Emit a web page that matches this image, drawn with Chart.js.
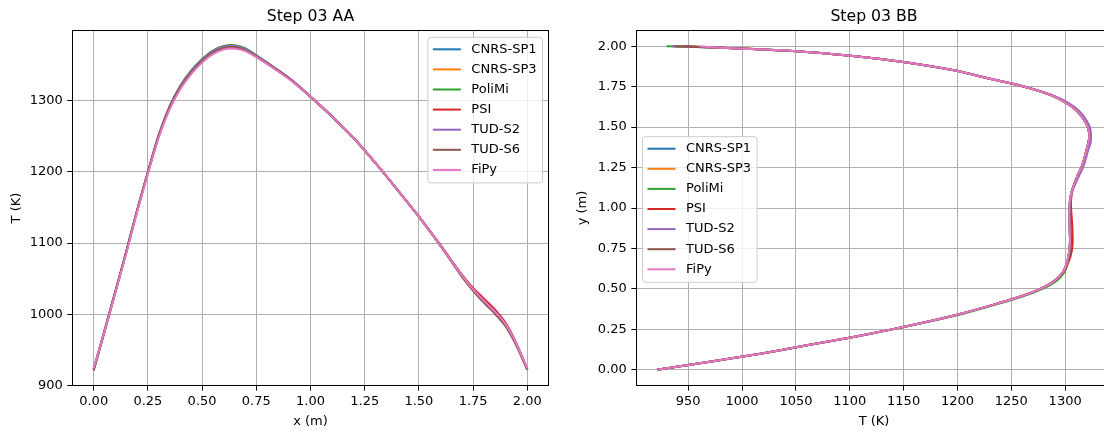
<!DOCTYPE html>
<html>
<head>
<meta charset="utf-8">
<script src="https://cdn.jsdelivr.net/npm/chart.js@4"></script>
<style>
html, body { margin: 0; padding: 0; background: #fff; overflow: hidden; width: 1104px; height: 432px; }
canvas { position: absolute; top: 0; }
#left { left: 0; }
#right { left: 560px; }
</style>
</head>
<body>
<canvas id="left" width="560" height="432"></canvas>
<canvas id="right" width="560" height="432"></canvas>
<script>
const seriesNames = ['CNRS-SP1', 'CNRS-SP3', 'PoliMi', 'PSI', 'TUD-S2', 'TUD-S6', 'FiPy'];
const seriesColors = ['#1f77b4', '#ff7f0e', '#2ca02c', '#d62728', '#9467bd', '#8c564b', '#e377c2'];

// Step 03 AA : T (K) along x (m)
const aaX = [0, 0.05, 0.1, 0.15, 0.2, 0.25, 0.3, 0.35, 0.4, 0.45, 0.5, 0.55, 0.6, 0.65, 0.7, 0.8, 0.9, 1.0,
             1.1, 1.2, 1.3, 1.4, 1.5, 1.6, 1.7, 1.75, 1.8, 1.85, 1.9, 1.95, 2.0];
const aaSP1 = [923, 977, 1032, 1087, 1145, 1199, 1250, 1290, 1319, 1340, 1356, 1368, 1374.5, 1375.5, 1371, 1352, 1331, 1305,
               1277, 1247, 1212, 1175, 1137, 1096, 1053, 1034, 1018, 1003, 985, 957, 923];
const aaSP3 = [923, 977, 1032, 1087, 1145, 1199, 1250, 1290, 1319, 1340, 1356, 1368, 1374.5, 1375.5, 1371, 1352, 1331, 1305,
               1277, 1247, 1212, 1175, 1137, 1096, 1053, 1034, 1018, 1003, 985, 957, 923];
const aaPoliMi = [923, 977, 1032, 1088, 1146, 1200, 1252, 1292, 1321, 1342, 1358, 1370, 1376.5, 1377.5, 1373, 1353, 1331, 1305,
                  1277, 1247, 1212, 1175, 1137, 1096, 1053, 1034, 1018, 1003, 985, 957, 923];
const aaPSI = [923, 977, 1032, 1087, 1145, 1199, 1250, 1290, 1319, 1340, 1356, 1368, 1374.5, 1375.5, 1371, 1352, 1331, 1305,
               1277, 1247, 1212, 1175, 1137, 1097, 1055, 1037, 1022, 1007, 988, 959, 923];
const aaTUDS2 = [923, 977, 1032, 1087, 1145, 1199, 1251, 1291, 1320, 1341, 1357, 1369, 1375.5, 1376.5, 1372, 1353, 1332, 1306,
                 1278, 1247, 1212, 1175, 1137, 1096, 1054, 1035, 1019, 1004, 986, 959, 923];
const aaTUDS6 = [921, 975, 1031, 1087, 1145, 1199, 1250, 1290, 1318, 1339, 1355, 1367, 1373.5, 1374.5, 1370, 1352, 1331, 1305,
                 1277, 1247, 1212, 1175, 1137, 1096, 1052, 1033, 1016, 1001, 983, 956, 922];
const aaFiPy = [924, 976, 1030, 1085, 1143, 1197, 1248, 1287, 1316, 1337, 1353, 1365, 1371.5, 1372.5, 1369, 1351, 1330, 1305,
                1277, 1247, 1212, 1175, 1137, 1096, 1054, 1035, 1019, 1004, 986, 958, 924];

// Step 03 BB : T (K) along y (m)
const bbY = [0, 0.05, 0.1, 0.15, 0.2, 0.25, 0.3, 0.35, 0.4, 0.45, 0.5, 0.55, 0.6, 0.65, 0.7, 0.75, 0.8, 0.9, 1.0,
             1.05, 1.1, 1.15, 1.2, 1.25, 1.3, 1.35, 1.4, 1.45, 1.5, 1.55, 1.6, 1.65, 1.7, 1.75, 1.8, 1.85, 1.9,
             1.94, 1.97, 1.99, 2.0];
const bbSP1 = [921, 970, 1017, 1059, 1101, 1139, 1174, 1205, 1232, 1257, 1277, 1290, 1297.5, 1301, 1303, 1304, 1304.5, 1304, 1304,
               1304.5, 1306, 1308.5, 1311.5, 1315, 1317.5, 1319.5, 1321.5, 1322.5, 1321, 1317, 1311, 1301, 1286, 1262, 1229, 1198, 1153,
               1103, 1047, 982, 945];
const bbSP3 = [921, 970, 1017, 1059, 1101, 1139, 1174, 1205, 1232, 1257, 1277, 1290, 1297.5, 1301, 1303, 1304, 1304.5, 1304, 1304,
               1304.5, 1306, 1308.5, 1311.5, 1315, 1317.5, 1319.5, 1321.5, 1322.5, 1321, 1317, 1311, 1301, 1286, 1262, 1229, 1198, 1153,
               1103, 1047, 982, 945];
const bbPoliMi = [921, 970, 1017, 1059, 1101, 1140, 1175, 1207, 1234, 1259, 1279, 1292, 1299, 1302, 1303, 1304, 1304.5, 1304, 1304,
                  1304.5, 1306, 1308.5, 1311.5, 1315, 1317.5, 1319.5, 1321.5, 1322.5, 1321, 1317, 1311, 1301, 1286, 1262, 1229, 1198, 1153,
                  1103, 1047, 982, 930];
const bbPSI = [921, 970, 1017, 1059, 1101, 1139, 1174, 1205, 1232, 1257, 1277, 1290, 1298, 1302, 1305, 1306.5, 1307, 1306.5, 1305.5,
               1305.5, 1306.5, 1308.5, 1311.5, 1315, 1317.5, 1319.5, 1321.5, 1322.5, 1321, 1317, 1311, 1301, 1286, 1262, 1229, 1198, 1153,
               1103, 1047, 982, 945];
const bbTUDS2 = [921, 970, 1017, 1059, 1101, 1139, 1174, 1205, 1232, 1257, 1277, 1290, 1297.5, 1301, 1303, 1304, 1304.5, 1304, 1304,
                 1305, 1306.5, 1309.5, 1313, 1316.5, 1319, 1321, 1323.5, 1324, 1323, 1319, 1313, 1303, 1287, 1263, 1230, 1198, 1153,
                 1103, 1047, 982, 935];
const bbTUDS6 = [921, 970, 1017, 1059, 1101, 1139, 1174, 1205, 1232, 1257, 1277, 1290, 1297.5, 1301.5, 1304, 1305, 1305.5, 1305, 1304.5,
                 1304.5, 1306, 1308.5, 1311.5, 1315, 1317.5, 1319.5, 1321.5, 1322.5, 1321, 1317, 1311, 1301, 1286, 1262, 1229, 1198, 1153,
                 1103, 1047, 982, 937];
const bbFiPy = [921, 970, 1017, 1059, 1101, 1139, 1174, 1205, 1232, 1257, 1277, 1290, 1297.5, 1301, 1303, 1304, 1304.5, 1304, 1304,
                1304.5, 1306, 1308.5, 1311.5, 1315, 1317.5, 1319.5, 1321.5, 1322.5, 1321, 1317, 1311, 1301, 1286, 1262, 1229, 1198, 1153,
                1103, 1047, 982, 960];

const aaXTicks = [0, 0.25, 0.5, 0.75, 1.0, 1.25, 1.5, 1.75, 2.0];
const aaYTicks = [900, 1000, 1100, 1200, 1300];
const bbXTicks = [950, 1000, 1050, 1100, 1150, 1200, 1250, 1300];
const bbYTicks = [0, 0.25, 0.5, 0.75, 1.0, 1.25, 1.5, 1.75, 2.0];

Chart.defaults.font.family = "'DejaVu Sans', sans-serif";
Chart.defaults.color = '#000';

// spines + matplotlib style legend inside the axes
const mplFrame = {
    id: 'mplFrame',
    afterDatasetsDraw(chart, args, opts) {
        const ctx = chart.ctx;
        const a = chart.chartArea;
        ctx.save();
        ctx.strokeStyle = '#000';
        ctx.lineWidth = 1;
        ctx.strokeRect(Math.round(a.left) + 0.5, Math.round(a.top) + 0.5,
                       Math.round(a.right - a.left) - 1, Math.round(a.bottom - a.top) - 1);

        const sets = chart.data.datasets;
        ctx.font = '13px "DejaVu Sans"';
        const tw = Math.max(...sets.map(d => ctx.measureText(d.label).width));
        const rowH = 20.1;
        const w = 5 + 28 + 10.5 + tw + 6;
        const h = (sets.length - 1) * rowH + 25;
        const x0 = opts.side === 'right' ? a.right - 6.5 - w : a.left + 6.5;
        const y0 = opts.top;
        const r = 3;
        ctx.beginPath();
        ctx.moveTo(x0 + r, y0);
        ctx.arcTo(x0 + w, y0, x0 + w, y0 + h, r);
        ctx.arcTo(x0 + w, y0 + h, x0, y0 + h, r);
        ctx.arcTo(x0, y0 + h, x0, y0, r);
        ctx.arcTo(x0, y0, x0 + w, y0, r);
        ctx.closePath();
        ctx.fillStyle = 'rgba(255,255,255,0.8)';
        ctx.fill();
        ctx.strokeStyle = '#cccccc';
        ctx.stroke();
        ctx.textBaseline = 'middle';
        ctx.textAlign = 'left';
        sets.forEach((d, i) => {
            const cy = y0 + 12 + i * rowH;
            ctx.strokeStyle = d.borderColor;
            ctx.lineWidth = 2;
            ctx.beginPath();
            ctx.moveTo(x0 + 5, cy);
            ctx.lineTo(x0 + 33, cy);
            ctx.stroke();
            ctx.fillStyle = '#000';
            ctx.fillText(d.label, x0 + 43.5, cy);
        });
        ctx.restore();
    }
};

function makeSets(xs, ys, lists, swap) {
    return lists.map((vals, i) => ({
        label: seriesNames[i],
        data: vals.map((v, j) => swap ? {x: v, y: ys[j]} : {x: xs[j], y: v}),
        borderColor: seriesColors[i],
        backgroundColor: seriesColors[i],
        borderWidth: 2,
        pointRadius: 0,
        showLine: true,
        tension: 0.3,
        order: lists.length - i
    }));
}

function axis(min, max, ticks, title, fmt, isX, size, titlePad, tickPad) {
    return {
        type: 'linear',
        min: min,
        max: max,
        afterBuildTicks: s => { s.ticks = ticks.map(v => ({value: v})); },
        afterFit: s => { if (isX) s.height = size; else s.width = size; },
        ticks: {
            callback: fmt,
            color: '#000',
            font: {size: 13},
            padding: tickPad,
            maxRotation: 0,
            autoSkip: false
        },
        grid: {color: '#b0b0b0', lineWidth: 1, tickLength: 4.6, tickColor: '#000', tickWidth: 1},
        border: {display: false},
        title: {display: true, text: title, color: '#000', font: {size: 13}, padding: titlePad}
    };
}

function makeChart(id, title, datasets, xScale, yScale, padRight, legend) {
    return new Chart(document.getElementById(id), {
        type: 'scatter',
        data: {datasets: datasets},
        options: {
            responsive: false,
            animation: false,
            devicePixelRatio: 1,
            layout: {padding: {left: 0, right: padRight, top: 0, bottom: 0}},
            scales: {x: xScale, y: yScale},
            plugins: {
                legend: {display: false},
                tooltip: {enabled: false},
                title: {
                    display: true,
                    text: title,
                    color: '#000',
                    fullSize: false,
                    font: {size: 15.7, weight: 'normal'},
                    padding: {top: 7.2, bottom: 4}
                },
                mplFrame: legend
            }
        },
        plugins: [mplFrame]
    });
}

makeChart('left', 'Step 03 AA',
    makeSets(aaX, null, [aaSP1, aaSP3, aaPoliMi, aaPSI, aaTUDS2, aaTUDS6, aaFiPy], false),
    axis(-0.1, 2.1, aaXTicks, 'x (m)', v => v.toFixed(2), true, 46, {top: 0, bottom: 2.5}, 3.5),
    axis(899.5, 1398.7, aaYTicks, 'T (K)', v => String(v), false, 72, {top: 9, bottom: 0}, 4.6),
    11, {side: 'right', top: 37.3});

makeChart('right', 'Step 03 BB',
    makeSets(null, bbY, [bbSP1, bbSP3, bbPoliMi, bbPSI, bbTUDS2, bbTUDS6, bbFiPy], true),
    axis(901.5, 1343.5, bbXTicks, 'T (K)', v => String(v), true, 46, {top: 0, bottom: 2.5}, 3.5),
    axis(-0.1, 2.1, bbYTicks, 'y (m)', v => v.toFixed(2), false, 76, {top: 15, bottom: 0}, 4.6),
    8, {side: 'left', top: 136.7});
</script>
</body>
</html>
